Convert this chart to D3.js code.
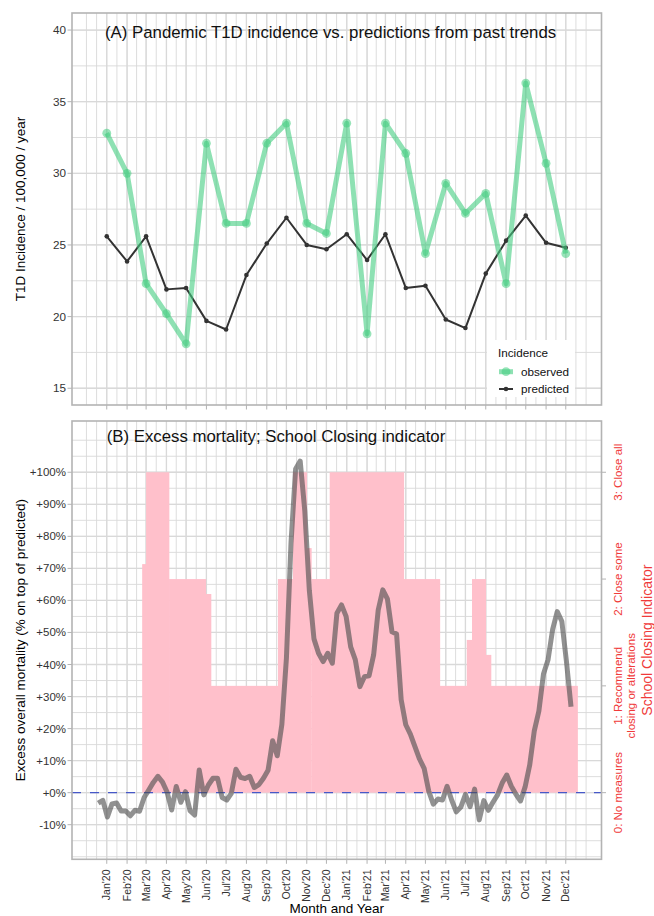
<!DOCTYPE html>
<html><head><meta charset="utf-8">
<script src="https://cdn.jsdelivr.net/npm/d3@7"></script>
<style>body{margin:0;background:#fff}svg{display:block}</style>
</head><body><svg id="c" width="654" height="916"></svg>
<script>
// ---------------- DATA ----------------
const months = ["2020-01-01","2020-02-01","2020-03-01","2020-04-01","2020-05-01","2020-06-01","2020-07-01","2020-08-01","2020-09-01","2020-10-01","2020-11-01","2020-12-01",
                "2021-01-01","2021-02-01","2021-03-01","2021-04-01","2021-05-01","2021-06-01","2021-07-01","2021-08-01","2021-09-01","2021-10-01","2021-11-01","2021-12-01"];
const monthLabels = ["Jan'20","Feb'20","Mar'20","Apr'20","May'20","Jun'20","Jul'20","Aug'20","Sep'20","Oct'20","Nov'20","Dec'20",
                     "Jan'21","Feb'21","Mar'21","Apr'21","May'21","Jun'21","Jul'21","Aug'21","Sep'21","Oct'21","Nov'21","Dec'21"];
const observed  = [32.8,30.0,22.3,20.2,18.1,32.1,26.5,26.5,32.1,33.5,26.5,25.8,33.5,18.8,33.5,31.4,24.4,29.3,27.2,28.6,22.3,36.3,30.7,24.4];
const predicted = [25.6,23.85,25.6,21.9,22.0,19.7,19.1,22.9,25.1,26.9,25.0,24.7,25.75,23.95,25.75,22.0,22.15,19.8,19.2,23.0,25.3,27.05,25.15,24.8];
const incidenceTicks = [15,20,25,30,35,40];

const mortalityStart = "2019-12-19"; // weekly series
const mortalityWeekly = [
 -3.3,-2.4,-7.6,-3.5,-3.2,-5.7,-5.7,-7.2,-5.5,-5.8,
 -1.5,0.8,3.2,5.1,3.3,0.2,-5.4,1.9,-3.0,0.3,
 -5.6,-7.0,7.1,-0.7,2.4,4.5,4.5,-1.5,-2.3,-0.2,
 7.3,4.8,4.4,5.1,1.6,2.5,4.5,7.0,16.2,11.5,
 21.2,42,78,101,103.5,88,63,48,43.5,40.9,
 43.5,40.4,56,58.6,55,45.5,41.5,33.1,36.2,36.5,
 43,57,63.3,60.5,50.2,49.5,29,21.2,18.3,14.4,
 10.5,7.6,0.5,-3.6,-2.0,-2.3,2.0,-2.3,-6.0,-4.5,
 -0.5,-4.4,1.1,-8.5,-2.5,-5.5,-3.0,-0.7,3.0,5.5,
 2.0,-0.5,-2.6,1.8,8.6,19.3,25.5,37,41.5,51,
 56.5,53.5,41,26.8];
const mortalityTicks = [-10,0,10,20,30,40,50,60,70,80,90,100];
const mortalityTickLabels = ["-10%","+0%","+10%","+20%","+30%","+40%","+50%","+60%","+70%","+80%","+90%","+100%"];

const closingDates = ["2020-02-24","2020-03-01","2020-04-05","2020-05-31","2020-06-08","2020-09-18","2020-10-11","2020-11-01","2020-11-08","2020-12-06",
                      "2021-03-29","2021-05-23","2021-07-03","2021-07-11","2021-08-01","2021-08-09","2021-12-19"];
const closingLevels = [2.14,3,2,1.86,1,2,3,2.29,2,3,2,1,1.43,2,1.29,1];
const closingTicks = [0,1,2,3];
const closingTickLabels = [["0: No measures"],["1: Recommend","closing or alterations"],["2: Close some"],["3: Close all"]];

// ---------------- SETUP ----------------
const FONT = '"Liberation Sans", Arial, Helvetica, sans-serif';
const svg = d3.select("#c").style("font-family", FONT);
const parse = d3.utcParse("%Y-%m-%d");
const L = 72, R = 601.5;
const A = {top: 13, bottom: 405};
const B = {top: 421, bottom: 859.3};
const GRID = "#d9d9d9", BORDER = "#b3b3b3", TXT = "#333";

const x = d3.scaleUtc().domain([Date.UTC(2019,10,9), Date.UTC(2022,0,24,12)]).range([L, R]);
const yA = d3.scaleLinear().domain([13.83, 41.19]).range([A.bottom, A.top]);
const yB = d3.scaleLinear().domain([-20.8, 116]).range([B.bottom, B.top]);
const yC = d3.scaleLinear().domain([0, 3]).range([yB(0), yB(100)]);

const monthDates = months.map(parse);
// ggplot-like minor breaks
const bd = monthDates[1] - monthDates[0];
const ext = [new Date(+monthDates[0] - bd), ...monthDates, new Date(+monthDates[monthDates.length-1] + bd)];
const minorX = ext.slice();
for (let i = 0; i < ext.length - 1; i++) minorX.push(new Date((+ext[i] + +ext[i+1]) / 2));

function hMinor(ticks) {
  const st = ticks[1] - ticks[0];
  const e = [ticks[0] - st, ...ticks, ticks[ticks.length-1] + st];
  const out = e.slice();
  for (let i = 0; i < e.length - 1; i++) out.push((e[i] + e[i+1]) / 2);
  return out;
}

function panel(P, y, hTicks, id) {
  const g = svg.append("g");
  g.append("clipPath").attr("id", id).append("rect")
    .attr("x", L).attr("y", P.top).attr("width", R - L).attr("height", P.bottom - P.top);
  const gg = g.append("g").attr("clip-path", `url(#${id})`);
  const [y0, y1] = y.domain();
  gg.selectAll(".vmin").data(minorX).join("line")
    .attr("x1", d => x(d)).attr("x2", d => x(d)).attr("y1", P.top).attr("y2", P.bottom)
    .attr("stroke", GRID).attr("stroke-width", 0.9);
  gg.selectAll(".hmin").data(hMinor(hTicks).filter(v => v > y0 && v < y1)).join("line")
    .attr("x1", L).attr("x2", R).attr("y1", d => y(d)).attr("y2", d => y(d))
    .attr("stroke", GRID).attr("stroke-width", 0.9);
  gg.selectAll(".vmaj").data(monthDates).join("line")
    .attr("x1", d => x(d)).attr("x2", d => x(d)).attr("y1", P.top).attr("y2", P.bottom)
    .attr("stroke", GRID).attr("stroke-width", 1.3);
  gg.selectAll(".hmaj").data(hTicks).join("line")
    .attr("x1", L).attr("x2", R).attr("y1", d => y(d)).attr("y2", d => y(d))
    .attr("stroke", GRID).attr("stroke-width", 1.3);
  g.selectAll(".yt").data(hTicks).join("line")
    .attr("x1", L - 4.5).attr("x2", L).attr("y1", d => y(d)).attr("y2", d => y(d))
    .attr("stroke", BORDER).attr("stroke-width", 1);
  g.selectAll(".xt").data(monthDates).join("line")
    .attr("x1", d => x(d)).attr("x2", d => x(d)).attr("y1", P.bottom).attr("y2", P.bottom + 4.5)
    .attr("stroke", BORDER).attr("stroke-width", 1);
  return {g, gg};
}

// ---------------- PANEL A ----------------
const pa = panel(A, yA, incidenceTicks, "clipA");
const lineA = d3.line().x((d, i) => x(monthDates[i])).y(d => yA(d));
pa.gg.append("path").datum(predicted).attr("d", lineA)
  .attr("fill", "none").attr("stroke", "#333").attr("stroke-width", 2).attr("stroke-linejoin", "round");
pa.gg.selectAll(".pp").data(predicted).join("circle")
  .attr("cx", (d, i) => x(monthDates[i])).attr("cy", d => yA(d)).attr("r", 2.3).attr("fill", "#333");
const GREEN = "#43cd80";
pa.gg.append("path").datum(observed).attr("d", lineA)
  .attr("fill", "none").attr("stroke", GREEN).attr("stroke-opacity", 0.6).attr("stroke-width", 5).attr("stroke-linejoin", "round");
pa.gg.selectAll(".op").data(observed).join("circle")
  .attr("cx", (d, i) => x(monthDates[i])).attr("cy", d => yA(d)).attr("r", 4.4).attr("fill", GREEN).attr("fill-opacity", 0.55);
pa.g.append("rect").attr("x", L).attr("y", A.top).attr("width", R - L).attr("height", A.bottom - A.top)
  .attr("fill", "none").attr("stroke", BORDER).attr("stroke-width", 1.6);
pa.g.selectAll(".ylab").data(incidenceTicks).join("text")
  .attr("x", 66).attr("y", d => yA(d)).attr("dy", "0.35em").attr("text-anchor", "end")
  .attr("font-size", 11.7).attr("fill", TXT).text(d => d);
svg.append("text").attr("transform", `translate(20,${(A.top + A.bottom) / 2}) rotate(-90)`)
  .attr("text-anchor", "middle").attr("dy", "0.35em").attr("font-size", 13.5).attr("fill", "#000")
  .text("T1D Incidence / 100,000 / year");
svg.append("text").attr("x", 105).attr("y", 37.5).attr("font-size", 16.8).attr("fill", "#111")
  .text("(A) Pandemic T1D incidence vs. predictions from past trends");

// legend
const lg = svg.append("g");
lg.append("rect").attr("x", 487).attr("y", 340).attr("width", 88).attr("height", 57).attr("fill", "#fff");
lg.append("text").attr("x", 498).attr("y", 356.5).attr("font-size", 11.7).attr("fill", "#111").text("Incidence");
lg.append("line").attr("x1", 499).attr("x2", 513).attr("y1", 371.7).attr("y2", 371.7)
  .attr("stroke", GREEN).attr("stroke-opacity", 0.6).attr("stroke-width", 5);
lg.append("circle").attr("cx", 506).attr("cy", 371.7).attr("r", 4.4).attr("fill", GREEN).attr("fill-opacity", 0.55);
lg.append("line").attr("x1", 499).attr("x2", 513).attr("y1", 389).attr("y2", 389)
  .attr("stroke", "#333").attr("stroke-width", 2);
lg.append("circle").attr("cx", 506).attr("cy", 389).attr("r", 2.3).attr("fill", "#333");
lg.append("text").attr("x", 521).attr("y", 375.7).attr("font-size", 11.7).attr("fill", "#111").text("observed");
lg.append("text").attr("x", 521).attr("y", 392.7).attr("font-size", 11.7).attr("fill", "#111").text("predicted");

// ---------------- PANEL B ----------------
const pb = panel(B, yB, mortalityTicks, "clipB");
const cd = closingDates.map(parse);
pb.gg.selectAll(".bar").data(closingLevels).join("rect")
  .attr("x", (d, i) => x(cd[i])).attr("width", (d, i) => x(cd[i+1]) - x(cd[i]) + 0.3)
  .attr("y", d => yC(d)).attr("height", d => yC(0) - yC(d))
  .attr("fill", "pink");
pb.gg.append("line").attr("x1", L).attr("x2", R).attr("y1", yB(0)).attr("y2", yB(0))
  .attr("stroke", "#4658c8").attr("stroke-width", 1.2).attr("stroke-dasharray", "9,9");
const md0 = parse(mortalityStart);
const mDates = mortalityWeekly.map((d, i) => d3.utcDay.offset(md0, 7 * i));
pb.gg.append("path").datum(mortalityWeekly)
  .attr("d", d3.line().x((d, i) => x(mDates[i])).y(d => yB(d)))
  .attr("fill", "none").attr("stroke", "#4d4d4d").attr("stroke-opacity", 0.62)
  .attr("stroke-width", 5).attr("stroke-linejoin", "round");
pb.g.append("rect").attr("x", L).attr("y", B.top).attr("width", R - L).attr("height", B.bottom - B.top)
  .attr("fill", "none").attr("stroke", BORDER).attr("stroke-width", 1.6);
pb.g.selectAll(".ylab").data(mortalityTicks).join("text")
  .attr("x", 66).attr("y", d => yB(d)).attr("dy", "0.35em").attr("text-anchor", "end")
  .attr("font-size", 11.5).attr("fill", TXT).text((d, i) => mortalityTickLabels[i]);
svg.append("text").attr("transform", `translate(20,${(B.top + B.bottom) / 2}) rotate(-90)`)
  .attr("text-anchor", "middle").attr("dy", "0.35em").attr("font-size", 13.5).attr("fill", "#000")
  .text("Excess overall mortality (% on top of predicted)");
svg.append("text").attr("x", 106.7).attr("y", 442).attr("font-size", 16.8).attr("fill", "#111")
  .text("(B) Excess mortality; School Closing indicator");

// right axis
const RED = "#f03a3a";
pb.g.selectAll(".rt").data(closingTicks).join("line")
  .attr("x1", R).attr("x2", R + 4.5).attr("y1", d => yC(d)).attr("y2", d => yC(d))
  .attr("stroke", BORDER).attr("stroke-width", 1);
closingTicks.forEach((t, i) => {
  const lines = closingTickLabels[i];
  lines.forEach((s, j) => {
    svg.append("text").attr("transform", `translate(${617.5 + j * 13.3},${yC(t)}) rotate(-90)`)
      .attr("text-anchor", "middle").attr("dy", "0.35em").attr("font-size", 11.5).attr("fill", RED).text(s);
  });
});
svg.append("text").attr("transform", `translate(647,${(B.top + B.bottom) / 2}) rotate(-90)`)
  .attr("text-anchor", "middle").attr("dy", "0.35em").attr("font-size", 14).attr("fill", RED)
  .text("School Closing Indicator");

// x labels
svg.selectAll(".xl").data(monthDates).join("text")
  .attr("transform", d => `translate(${x(d)},869.5) rotate(-90)`)
  .attr("text-anchor", "end").attr("dy", "0.35em").attr("font-size", 10.5).attr("fill", TXT)
  .text((d, i) => monthLabels[i]);
svg.append("text").attr("x", (L + R) / 2).attr("y", 912.5).attr("text-anchor", "middle")
  .attr("font-size", 13.5).attr("fill", "#000").text("Month and Year");
</script></body></html>
